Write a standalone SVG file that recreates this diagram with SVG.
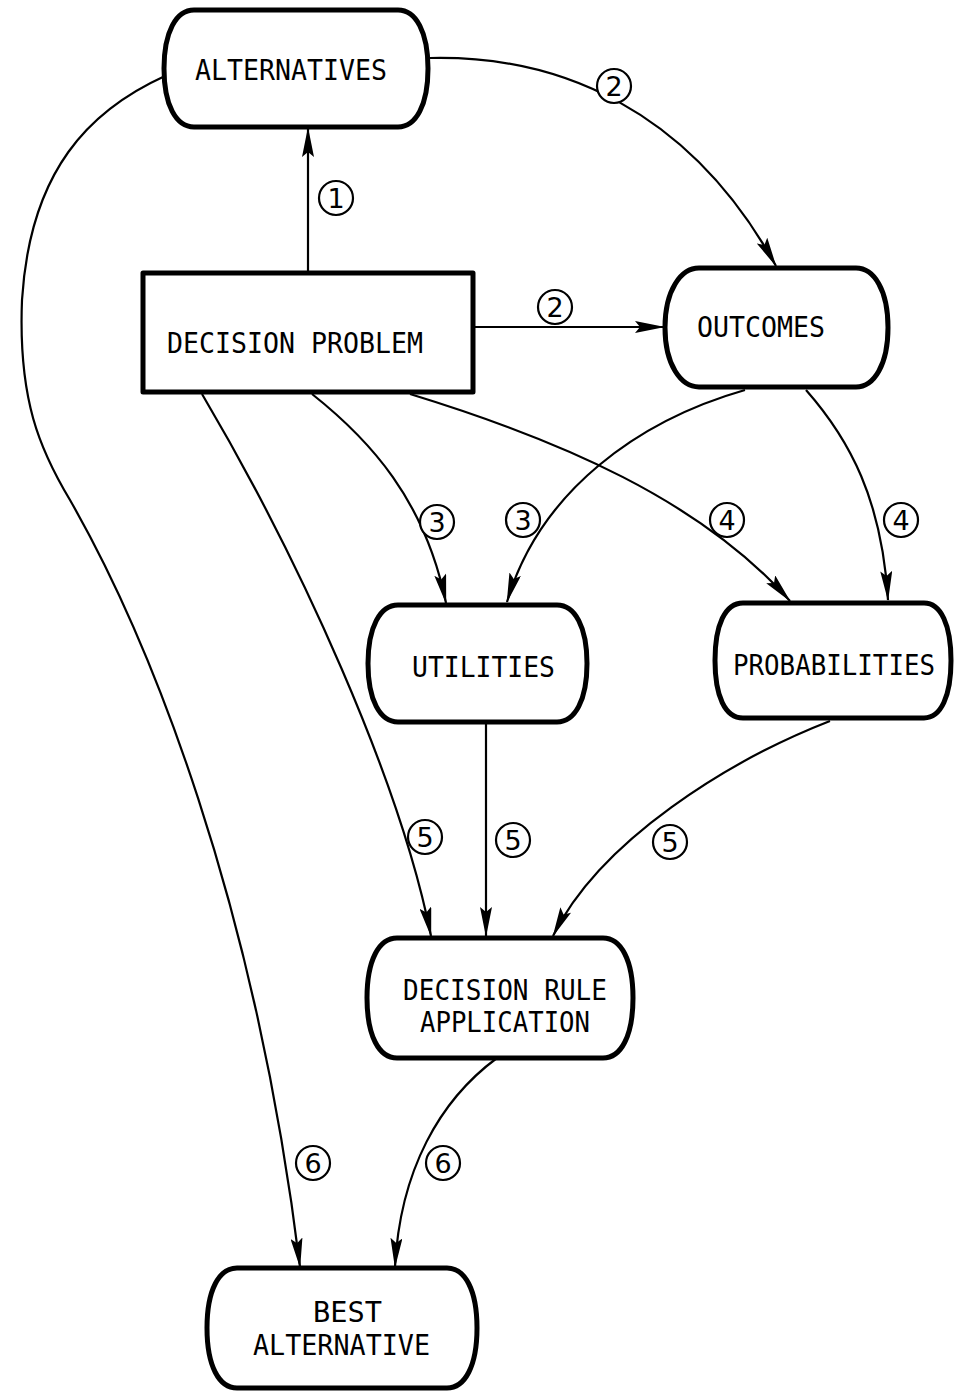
<svg xmlns="http://www.w3.org/2000/svg" width="958" height="1393" viewBox="0 0 958 1393">
  <style>
    .node { fill: #fff; stroke: #000; stroke-width: 5; stroke-linejoin: round; }
    .lbl { font-family: "DejaVu Sans Mono", "Liberation Mono", monospace; font-size: 29px; fill: #000; }
    .edge { fill: none; stroke: #000; stroke-width: 2.2; marker-end: url(#head); }
    .step circle { fill: #fff; stroke: #000; stroke-width: 2.2; }
    .step text { font-family: "DejaVu Sans", "Liberation Sans", sans-serif; font-size: 27px; fill: #000; text-anchor: middle; }
  </style>
  <defs>
    <marker id="head" viewBox="0 0 30 12" refX="29" refY="6" markerWidth="30" markerHeight="12" markerUnits="userSpaceOnUse" orient="auto">
      <path d="M0,0 L30,6 L0,12 L5,6 Z" fill="#000"/>
    </marker>
  </defs>
  <rect width="958" height="1393" fill="#fff"/>

  <g id="connectors">
    <!-- 1: problem to alternatives -->
    <path class="edge" d="M308,271 L308,128"/>
    <!-- 2: alternatives to outcomes, problem to outcomes -->
    <path class="edge" d="M430,58 C560,55 690,110 776,266"/>
    <path class="edge" d="M475,327 L664,327"/>
    <!-- 3: to utilities -->
    <path class="edge" d="M312,394 C370,440 425,500 446,603"/>
    <path class="edge" d="M745,390 C640,420 540,490 507,602"/>
    <!-- 4: to probabilities -->
    <path class="edge" d="M410,394 C560,440 700,500 790,601"/>
    <path class="edge" d="M806,390 C850,440 882,500 888,600"/>
    <!-- 5: to decision rule application -->
    <path class="edge" d="M202,394 C300,560 400,780 431,936"/>
    <path class="edge" d="M486,723 L486,936"/>
    <path class="edge" d="M830,721 C730,760 600,840 553,936"/>
    <!-- 6: to best alternative -->
    <path class="edge" d="M165,76 C90,110 30,170 22,300 C18,400 40,450 70,500 C150,640 255,900 300,1267"/>
    <path class="edge" d="M497,1058 C440,1100 400,1170 395,1267"/>
  </g>

  <g id="step-labels" class="step">
    <g><circle cx="336" cy="198" r="17"/><text x="336" y="208">1</text></g>
    <g><circle cx="614" cy="86" r="17"/><text x="614" y="96">2</text></g>
    <g><circle cx="555" cy="307" r="17"/><text x="555" y="317">2</text></g>
    <g><circle cx="437" cy="522" r="17"/><text x="437" y="532">3</text></g>
    <g><circle cx="523" cy="520" r="17"/><text x="523" y="530">3</text></g>
    <g><circle cx="727" cy="520" r="17"/><text x="727" y="530">4</text></g>
    <g><circle cx="901" cy="520" r="17"/><text x="901" y="530">4</text></g>
    <g><circle cx="425" cy="837" r="17"/><text x="425" y="847">5</text></g>
    <g><circle cx="513" cy="840" r="17"/><text x="513" y="850">5</text></g>
    <g><circle cx="670" cy="842" r="17"/><text x="670" y="852">5</text></g>
    <g><circle cx="313" cy="1163" r="17"/><text x="313" y="1173">6</text></g>
    <g><circle cx="443" cy="1163" r="17"/><text x="443" y="1173">6</text></g>
  </g>

  <g id="alternatives">
    <path class="node" d="M194,10 H398 C416,10 428,32 428,68.5 C428,105 416,127 398,127 H194 C176,127 164,105 164,68.5 C164,32 176,10 194,10 Z"/>
    <text class="lbl" x="195" y="80" textLength="192" lengthAdjust="spacingAndGlyphs">ALTERNATIVES</text>
  </g>

  <g id="decision-problem">
    <rect class="node" x="143" y="273" width="330" height="119" stroke-linejoin="miter"/>
    <text class="lbl" x="167" y="353" textLength="256" lengthAdjust="spacingAndGlyphs">DECISION PROBLEM</text>
  </g>

  <g id="outcomes">
    <path class="node" d="M699,268 H856 C874,268 888,290 888,327.5 C888,365 874,387 856,387 H699 C681,387 665,365 665,327.5 C665,290 681,268 699,268 Z"/>
    <text class="lbl" x="697" y="337" textLength="128" lengthAdjust="spacingAndGlyphs">OUTCOMES</text>
  </g>

  <g id="utilities">
    <path class="node" d="M398,605 H557 C575,605 587,627 587,663.5 C587,700 575,722 557,722 H398 C380,722 368,700 368,663.5 C368,627 380,605 398,605 Z"/>
    <text class="lbl" x="412" y="677" textLength="143" lengthAdjust="spacingAndGlyphs">UTILITIES</text>
  </g>

  <g id="probabilities">
    <path class="node" d="M743,603 H924 C941,603 951,625 951,660.5 C951,696 941,718 924,718 H743 C725,718 715,696 715,660.5 C715,625 725,603 743,603 Z"/>
    <text class="lbl" x="733" y="675" font-size="27" textLength="202" lengthAdjust="spacingAndGlyphs">PROBABILITIES</text>
  </g>

  <g id="decision-rule-application">
    <path class="node" d="M397,938 H603 C621,938 633,960 633,998 C633,1036 621,1058 603,1058 H397 C379,1058 367,1036 367,998 C367,960 379,938 397,938 Z"/>
    <text class="lbl" x="403" y="1000" textLength="204" lengthAdjust="spacingAndGlyphs">DECISION RULE</text>
    <text class="lbl" x="420" y="1032" textLength="170" lengthAdjust="spacingAndGlyphs">APPLICATION</text>
  </g>

  <g id="best-alternative">
    <path class="node" d="M237,1268 H447 C465,1268 477,1290 477,1328 C477,1366 465,1388 447,1388 H237 C219,1388 207,1366 207,1328 C207,1290 219,1268 237,1268 Z"/>
    <text class="lbl" x="313" y="1322" textLength="69" lengthAdjust="spacingAndGlyphs">BEST</text>
    <text class="lbl" x="253" y="1355" textLength="177" lengthAdjust="spacingAndGlyphs">ALTERNATIVE</text>
  </g>
</svg>
